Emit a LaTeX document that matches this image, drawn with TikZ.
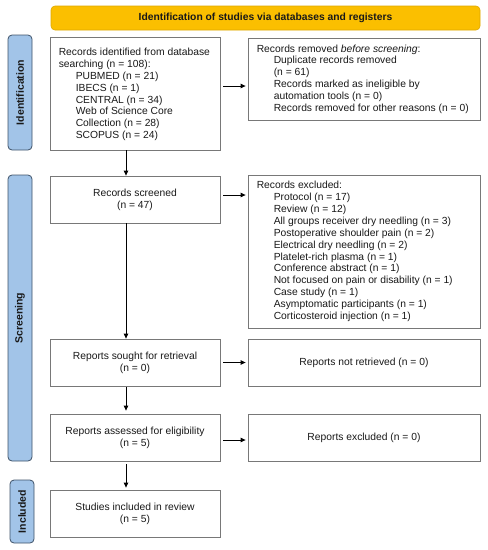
\documentclass[tikz,border=0pt]{standalone}
\usepackage{fontspec}
\setmainfont{Liberation Sans}
\usetikzlibrary{arrows.meta}
\definecolor{sideblue}{RGB}{162,196,232}
\definecolor{sideedge}{RGB}{62,82,104}
\definecolor{bannerfill}{RGB}{251,191,0}
\definecolor{banneredge}{RGB}{222,168,0}
\definecolor{boxedge}{RGB}{120,120,120}
\definecolor{txt}{RGB}{25,25,25}
\tikzset{
  basefont/.style={font=\fontsize{10.3}{11.85}\selectfont, text=txt},
  box/.style={draw=boxedge, line width=0.8pt, fill=white, basefont, inner sep=0pt, align=center},
  ltext/.style={basefont, align=left, inner sep=0pt, anchor=west},
  side/.style={draw=sideedge, line width=0.8pt, fill=sideblue, rounded corners=4pt},
  sidetext/.style={font=\fontsize{10.5}{11.7}\selectfont\bfseries, text=txt, rotate=90},
  banner/.style={draw=banneredge, line width=0.6pt, fill=bannerfill, rounded corners=4pt, font=\fontsize{10.3}{11.7}\selectfont\bfseries, text=txt},
  arr/.style={-{Triangle[length=5pt,width=4.5pt]}, line width=0.8pt, black}
}
\newcommand{\ind}{\hspace*{17pt}}
\begin{document}
\begin{tikzpicture}[x=1pt,y=-1pt]
\useasboundingbox (0,0) rectangle (488,550);
% banner
\node[banner, minimum width=429pt, minimum height=24pt, inner sep=0pt] (ban) at (265.5,18) {Identification of studies via databases and registers};
% side labels
\node[side, minimum width=24pt, minimum height=115pt, inner sep=0pt] (sid) at (20,92.5) {};
\node[sidetext] (sidt) at (sid.center) {Identification};
\node[side, minimum width=24pt, minimum height=286pt, inner sep=0pt] (sscr) at (20,318) {};
\node[sidetext] (sscrt) at (sscr.center) {Screening};
\node[side, minimum width=24pt, minimum height=63pt, inner sep=0pt] (sinc) at (22,511.5) {};
\node[sidetext] (sinct) at (sinc.center) {Included};
% left column
\node[box, minimum width=170pt, minimum height=113pt] (id) at (135,93.5) {};
\node[ltext] (idt) at ([xshift=9pt,yshift=-1pt]id.west) {Records identified from database\\searching (n = 108):\\\ind PUBMED (n = 21)\\\ind IBECS (n = 1)\\\ind CENTRAL (n = 34)\\\ind Web of Science Core\\\ind Collection (n = 28)\\\ind SCOPUS (n = 24)};
\node[box, minimum width=170pt, minimum height=47pt] (scr) at (135,199.5) {Records screened\\(n = 47)};
\node[box, minimum width=170pt, minimum height=47pt] (sought) at (135,362.5) {Reports sought for retrieval\\(n = 0)};
\node[box, minimum width=170pt, minimum height=47pt] (assess) at (135,437.5) {Reports assessed for eligibility\\(n = 5)};
\node[box, minimum width=170pt, minimum height=47pt] (incl) at (135,513.5) {Studies included in review\\(n = 5)};
% right column
\node[box, minimum width=232pt, minimum height=82pt] (rem) at (364,79) {};
\node[ltext] (remt) at ([xshift=9pt]rem.west) {Records removed \emph{before screening}:\\\ind Duplicate records removed\\\ind (n = 61)\\\ind Records marked as ineligible by\\\ind automation tools (n = 0)\\\ind Records removed for other reasons (n = 0)};
\node[box, minimum width=232pt, minimum height=153pt] (exc) at (364,251.5) {};
\node[ltext] (exct) at ([xshift=9pt]exc.west) {Records excluded:\\\ind Protocol (n = 17)\\\ind Review (n = 12)\\\ind All groups receiver dry needling (n = 3)\\\ind Postoperative shoulder pain (n = 2)\\\ind Electrical dry needling (n = 2)\\\ind Platelet-rich plasma (n = 1)\\\ind Conference abstract (n = 1)\\\ind Not focused on pain or disability (n = 1)\\\ind Case study (n = 1)\\\ind Asymptomatic participants (n = 1)\\\ind Corticosteroid injection (n = 1)};
\node[box, minimum width=232pt, minimum height=47pt] (notret) at (364,362.5) {Reports not retrieved (n = 0)};
\node[box, minimum width=232pt, minimum height=47pt] (repexc) at (364,437.5) {Reports excluded (n = 0)};
% vertical arrows
\draw[arr] ([xshift=-9pt]id.south) -- ([xshift=-9pt]scr.north);
\draw[arr] ([xshift=-9pt]scr.south) -- ([xshift=-9pt]sought.north);
\draw[arr, shorten <=1pt, shorten >=3pt] ([xshift=-9pt]sought.south) -- ([xshift=-9pt]assess.north);
\draw[arr, shorten <=3pt, shorten >=2pt] ([xshift=-9pt]assess.south) -- ([xshift=-9pt]incl.north);
% horizontal arrows
\draw[arr, shorten <=3pt, shorten >=2pt] ([yshift=7.5pt]id.east) -- ([yshift=7.5pt]id.east -| rem.west);
\draw[arr, shorten <=3pt, shorten >=2pt] ([yshift=4.5pt]scr.east) -- ([yshift=4.5pt]scr.east -| exc.west);
\draw[arr, shorten <=3pt, shorten >=2pt] (sought.east) -- (notret.west);
\draw[arr, shorten <=3pt, shorten >=2pt] ([yshift=-2.5pt]assess.east) -- ([yshift=-2.5pt]assess.east -| repexc.west);
\end{tikzpicture}
\end{document}
